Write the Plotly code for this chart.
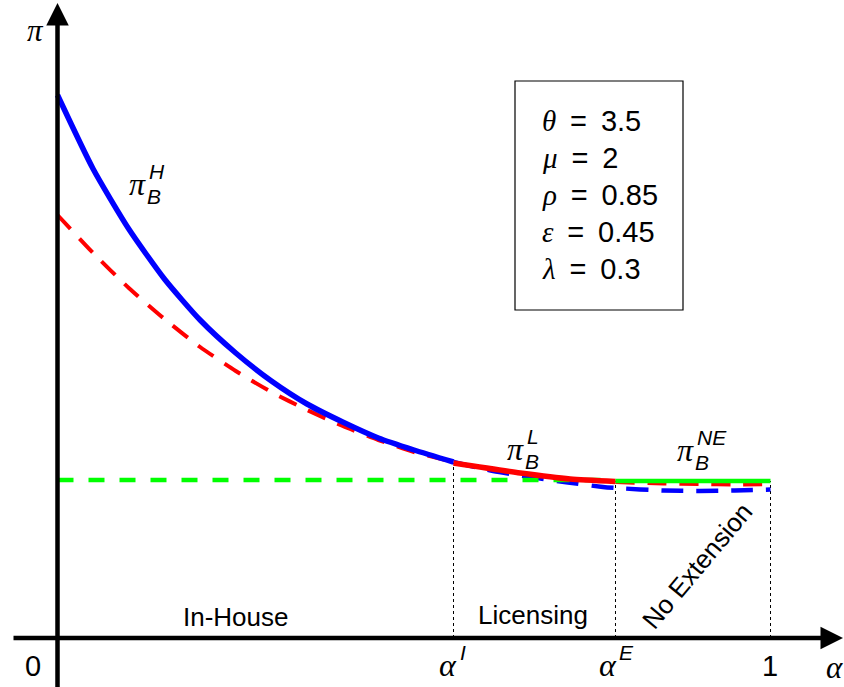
import plotly.graph_objects as go

# ---------------- data ----------------
alpha_I = 0.5554
alpha_E = 0.7826

x_H = [0.0, 0.05, 0.10, 0.15, 0.20, 0.25, 0.30, 0.35, 0.40, 0.45, 0.50, alpha_I]
pi_H = [5.43, 4.69, 4.09, 3.59, 3.18, 2.85, 2.57, 2.34, 2.16, 2.00, 1.88, 1.76]

x_H_ext = [alpha_I, 0.611, 0.663, 0.716, 0.765, alpha_E, 0.85, 0.90, 0.95, 1.0]
pi_H_ext = [1.76, 1.67, 1.61, 1.555, 1.51, 1.50, 1.475, 1.47, 1.475, 1.485]

x_L_pre = [0.0, 0.05, 0.10, 0.15, 0.20, 0.25, 0.30, 0.35, 0.40, 0.45, 0.50, alpha_I]
pi_L_pre = [4.23, 3.85, 3.50, 3.19, 2.91, 2.67, 2.46, 2.28, 2.12, 1.98, 1.86, 1.76]

x_L = [alpha_I, 0.649, 0.719, alpha_E]
pi_L = [1.75, 1.65, 1.59, 1.565]

x_L_post = [alpha_E, 0.85, 0.90, 0.95, 1.0]
pi_L_post = [1.56, 1.545, 1.54, 1.535, 1.54]

x_NE_pre = [0.0, alpha_E]
pi_NE_pre = [1.58, 1.58]
x_NE = [alpha_E, 1.0]
pi_NE = [1.57, 1.57]

params = [("θ", "3.5"), ("μ", "2"), ("ρ", "0.85"), ("ε", "0.45"), ("λ", "0.3")]
regions = ["In-House", "Licensing", "No Extension"]

# ---------------- pixel helpers for decorations ----------------
PX0, PXS = 57.5, 713.0
PY0, PYS = 638.0, 100.0
def X(px):
    return (px - PX0) / PXS
def Y(py):
    return (PY0 - py) / PYS

SANS = "Liberation Sans"
SERIF = "Liberation Serif"

fig = go.Figure()

def line(x, y, color, width, dash="solid"):
    fig.add_trace(go.Scatter(x=x, y=y, mode="lines",
                             line=dict(color=color, width=width, dash=dash, shape="spline", smoothing=0.6),
                             hoverinfo="skip", showlegend=False))

line(x_L_pre, pi_L_pre, "#ff0000", 4, "19px,13px")
line(x_L_post, pi_L_post, "#ff0000", 4, "19px,13px")
line(x_H_ext, pi_H_ext, "#0000ff", 4.5, "22px,13px")
line(x_NE_pre, pi_NE_pre, "#00ff00", 4.5, "16px,15px")
line(x_H, pi_H, "#0000ff", 5.5)
line(x_L, pi_L, "#ff0000", 5.5)
line(x_NE, pi_NE, "#00ff00", 4.5)

shapes = []
# dotted vertical guides
for xv, yv in [(alpha_I, pi_L[0]), (alpha_E, pi_NE[0]), (1.0, pi_NE[-1])]:
    shapes.append(dict(type="line", x0=xv, x1=xv, y0=0, y1=yv, xref="x", yref="y",
                       line=dict(color="black", width=1, dash="3px,3px"), layer="below"))
# parameter box
shapes.append(dict(type="rect", x0=X(515), x1=X(683), y0=Y(81), y1=Y(310), xref="x", yref="y",
                   line=dict(color="black", width=1.2)))

ann = []
# axes with arrows
ann.append(dict(x=X(843), y=0, ax=X(12), ay=0, xref="x", yref="y", axref="x", ayref="y",
                text="", showarrow=True, arrowhead=2, arrowsize=1.0, arrowwidth=4.5,
                arrowcolor="black", standoff=0, startstandoff=0))
ann.append(dict(x=0, y=Y(3), ax=0, ay=Y(690), xref="x", yref="y", axref="x", ayref="y",
                text="", showarrow=True, arrowhead=2, arrowsize=1.0, arrowwidth=4.5,
                arrowcolor="black", standoff=0, startstandoff=0))

def txt(px, py, s, size, family=SANS, anchor="center", angle=0, yanchor="middle"):
    ann.append(dict(x=X(px), y=Y(py), xref="x", yref="y", text=s, showarrow=False,
                    font=dict(family=family, size=size, color="black"), borderpad=0,
                    xanchor=anchor, yanchor=yanchor, textangle=angle))

# axis labels
txt(35, 30, "<i>π</i>", 31, SERIF)
txt(834, 667, "<i>α</i>", 31, SERIF)
txt(33, 666, "0", 29)
txt(770, 666, "1", 29)
txt(458, 665, "<i>α</i>", 32, SERIF, anchor="right")
txt(459, 652, "<i>I</i>", 21, anchor="left")
txt(618, 665, "<i>α</i>", 32, SERIF, anchor="right")
txt(618, 652, "<i>E</i>", 21, anchor="left")

# curve labels
def pilabel(px, py, sup, subx):
    txt(subx - 1, py, "<i>π</i>", 32, SERIF, anchor="right")
    txt(subx, py, "<i>" + sup + "</i>", 21, anchor="left", yanchor="bottom")
    txt(subx - 2, py, "<i>B</i>", 21, anchor="left", yanchor="top")

pilabel(139, 184, "H", 148)
pilabel(516, 449, "L", 526)
pilabel(687, 450, "NE", 696)

# region labels
txt(236, 617, regions[0], 26)
txt(533, 615, regions[1], 26)
txt(697, 566, regions[2], 26, angle=-50)

# parameter text
for i, (g, v) in enumerate(params):
    s = '<span style="font-family:%s"><i>%s</i></span>\u2009 = \u2009%s' % (SERIF, g, v)
    txt(541, 121 + 37 * i, s, 29, anchor="left")

fig.update_layout(
    width=844, height=687,
    margin=dict(l=0, r=0, t=0, b=0),
    paper_bgcolor="white", plot_bgcolor="white",
    xaxis=dict(range=[X(0), X(844)], visible=False, fixedrange=True),
    yaxis=dict(range=[Y(687), Y(0)], visible=False, fixedrange=True),
    shapes=shapes, annotations=ann, showlegend=False,
)
fig.write_html("out.html")
